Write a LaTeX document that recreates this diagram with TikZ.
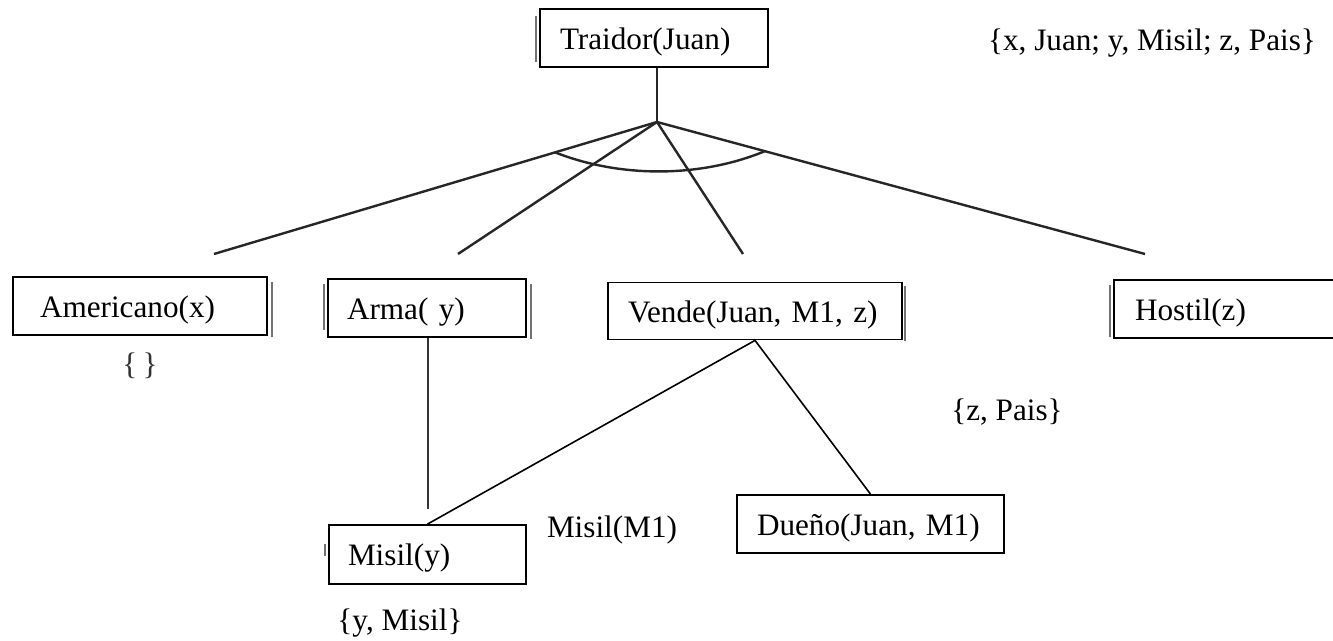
\documentclass[tikz,border=0pt]{standalone}
\usepackage{fontspec}
\setmainfont{Liberation Serif}
\usetikzlibrary{calc}
\newcommand\treefont{\fontsize{15.6}{18}\selectfont}
\tikzset{
  box/.style={draw, line width=0.9pt, inner ysep=0pt, align=left,
              text height=12.5pt, text depth=1.1pt,
              minimum height=29pt, font=\treefont},
  lbl/.style={font=\treefont, inner sep=1pt},
  upper/.style={line width=1.2pt, black!85},
  lower/.style={line width=0.8pt, black},
  ghost/.style={line width=1pt, black!55},
}
\begin{document}
\begin{tikzpicture}[x=0.5pt,y=-0.5pt]
\useasboundingbox (0,0) rectangle (1333,641);

% goal and subgoals
\node[box, inner xsep=10pt, text width=94pt, minimum width=114pt] (traidor) at (654,38) {Traidor(Juan)};
\node[box, inner xsep=13.5pt, text width=100pt] (americano) at (140,306) {Americano(x)};
\node[box, inner xsep=9.5pt, text width=80pt] (arma) at (427,308) {Arma( y)};
\node[box, inner xsep=10pt, text width=127pt, minimum height=28.5pt] (vende) at (755,311) {Vende(Juan, M1, z)};
\node[box, inner xsep=10.5pt, text width=102pt] (hostil) at (1237,309) {Hostil(z)};
\node[box, inner xsep=9.5pt, text width=79.5pt, minimum height=29.5pt] (misil) at (427.5,554.5) {Misil(y)};
\node[box, inner xsep=10pt, text width=113.5pt] (dueno) at (870.5,524) {Dueño(Juan, M1)};

% faint double edges on some boxes
\draw[ghost] ([xshift=-1.5pt,yshift=-4pt]traidor.north west) -- ([xshift=-1.5pt,yshift=3pt]traidor.south west);
\draw[ghost] ([xshift=2pt,yshift=-3pt]americano.north east) -- ([xshift=2pt,yshift=-0.5pt]americano.south east);
\draw[ghost] ([xshift=2pt,yshift=-3pt]arma.north east) -- ([xshift=2pt,yshift=-0.5pt]arma.south east);
\draw[ghost] ([xshift=-1.5pt,yshift=-3pt]arma.north west) -- ([xshift=-1.5pt,yshift=4pt]arma.south west);
\draw[ghost] ([xshift=1pt,yshift=-2pt]vende.north east) -- ([xshift=1pt,yshift=-0.5pt]vende.south east);
\draw[ghost] ([xshift=-1.5pt,yshift=-3pt]hostil.north west) -- ([xshift=-1.5pt,yshift=1pt]hostil.south west);
\draw[ghost] ([xshift=-1.5pt,yshift=-10pt]misil.north west) -- ([xshift=-1.5pt,yshift=-16pt]misil.north west);

% AND branching under the goal
\coordinate (hub) at (657,122);
\coordinate (e1) at (214,254);
\coordinate (e2) at (458,254);
\coordinate (e3) at (743,254);
\coordinate (e4) at (1145,254);
\draw[upper] (hub |- traidor.south) -- (hub);
\draw[upper] (hub) -- (e1);
\draw[upper] (hub) -- (e2);
\draw[upper] (hub) -- (e3);
\draw[upper] (hub) -- (e4);
\coordinate (a1) at ($(hub)!0.23!(e1)$);
\coordinate (a2) at ($(hub)!0.221!(e4)$);
\draw[upper] (a1) .. controls (620,178) and (700,178) .. (a2);

% lower links
\coordinate (armaend) at (428,509);
\draw[line width=1.2pt, black!80] (armaend |- arma.south) -- (armaend);
\draw[lower] (vende.south) -- (misil.north);
\draw[lower] (vende.south) -- (dueno.north);

% bindings
\node[lbl] (subst) at (1152,43) {\{x, Juan; y, Misil; z, Pais\}};
\node[lbl, black!80] (empty) at (140,366) {\{\,\}};
\node[lbl] (ymisil) at (400,623) {\{y, Misil\}};
\node[lbl] (misilm) at (612,530) {Misil(M1)};
\node[lbl] (zpais) at (1007,412) {\{z, Pais\}};
\end{tikzpicture}
\end{document}
